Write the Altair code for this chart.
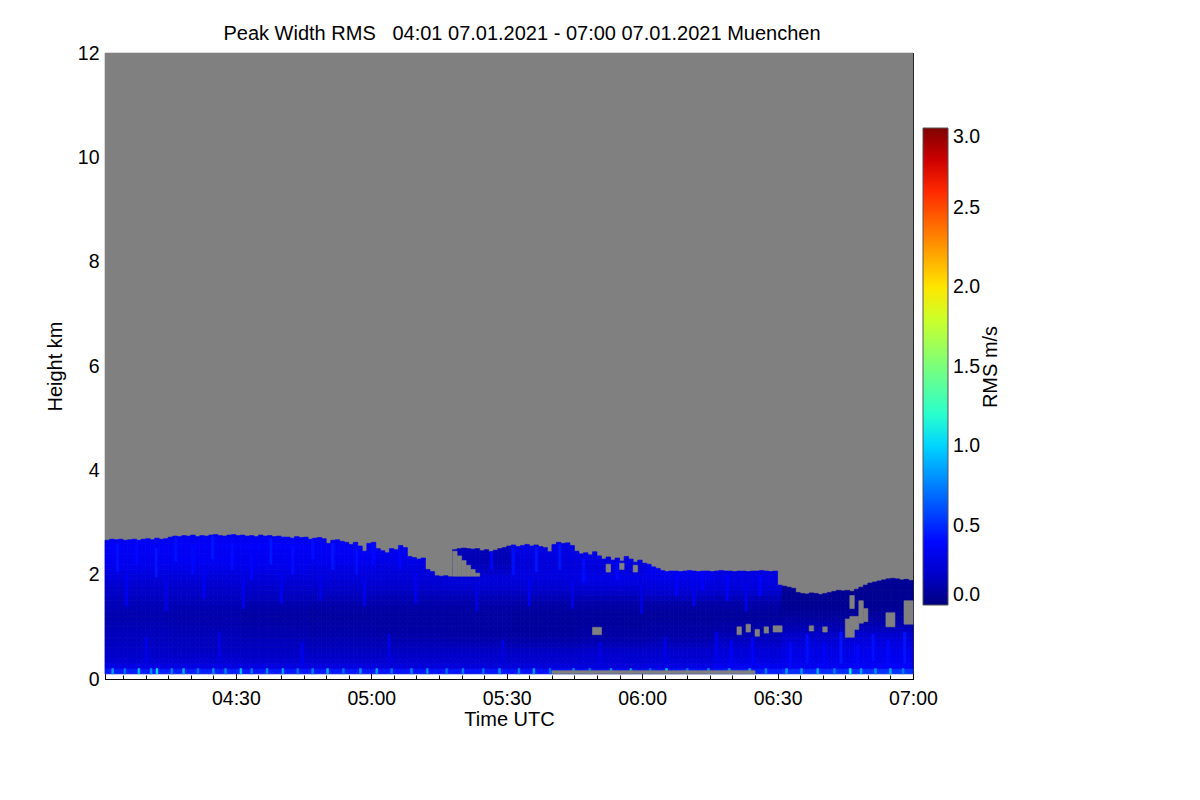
import json
import altair as alt
import pandas as pd

FONT = "Liberation Sans"
TITLE = "Peak Width RMS\u00a0\u00a0\u00a004:01 07.01.2021 - 07:00 07.01.2021 Muenchen"
X_TITLE = "Time UTC"
Y_TITLE = "Height km"
CB_TITLE = "RMS m/s"

# time axis: minutes after 04:00 UTC
T_START, T_END = 1, 180
H_BOTTOM, H_TOP = 0, 12
H_FLOOR = 0.1          # lowest range gate
ROW_H = 0.1            # range gate height (km)
COL_W = 1              # profile length (min)
SEG_MIN = 15           # minutes per profile segment

X_TICKS = [30, 60, 90, 120, 150, 180]
X_LABELS = ["04:30", "05:00", "05:30", "06:00", "06:30", "07:00"]
X_MINOR = list(range(5, 180, 5))
Y_TICKS = [0, 2, 4, 6, 8, 10, 12]
Y_MINOR = [i * 0.5 for i in range(25)]
CB_TICKS = [0.0, 0.5, 1.0, 1.5, 2.0, 2.5, 3.0]

# jet colour table on 0..3 m/s
JET_STOPS = [0, 0.11, 0.125, 0.34, 0.35, 0.375, 0.64, 0.65, 0.66, 0.89, 0.91, 1.0]
JET_COLORS = ["#000080", "#0000ff", "#0000ff", "#00dbff", "#00e5f7", "#14ffe2",
              "#eeff08", "#f7f600", "#ffec00", "#ff1300", "#e80000", "#800000"]
CB_MAX = 3.0

# top of valid signal (km), one value per minute 04:01 .. 06:59
TOPS = [
    2.66, 2.68, 2.67, 2.68, 2.66, 2.67, 2.68, 2.66, 2.68, 2.69, 2.67, 2.70, 2.68, 2.69,
    2.72, 2.74, 2.73, 2.75, 2.74, 2.76, 2.73, 2.75, 2.74, 2.76, 2.77, 2.75, 2.74, 2.76,
    2.77, 2.75, 2.76, 2.74, 2.75, 2.73, 2.76, 2.74, 2.75, 2.73, 2.74, 2.72,
    2.72, 2.70, 2.73, 2.71, 2.72, 2.68, 2.70, 2.71, 2.69,
    2.60, 2.66, 2.67, 2.64, 2.62,
    2.58, 2.62, 2.55, 2.45, 2.60, 2.62, 2.50, 2.46,
    2.42, 2.50, 2.48, 2.56, 2.52,
    2.35, 2.33, 2.30, 2.32,
    2.10, 2.06,
    1.98, 1.97, 1.98, 1.96,
    2.48, 2.50, 2.51, 2.50, 2.49, 2.50,
    2.46, 2.48, 2.44, 2.47, 2.50,
    2.52, 2.55, 2.57, 2.54, 2.56, 2.58, 2.55, 2.57, 2.54, 2.52,
    2.44,
    2.58, 2.62, 2.60, 2.61, 2.56,
    2.45, 2.40, 2.42, 2.38, 2.44, 2.36,
    2.30, 2.34, 2.28, 2.32, 2.26, 2.35, 2.30, 2.24, 2.28, 2.22,
    2.20, 2.15, 2.12, 2.08,
    2.06, 2.07, 2.07, 2.06, 2.07, 2.08, 2.07, 2.06, 2.07, 2.07, 2.06, 2.07, 2.08,
    2.07, 2.07, 2.06, 2.07, 2.07, 2.06, 2.07, 2.07, 2.08, 2.07, 2.06, 2.07,
    1.80, 1.78, 1.76, 1.74,
    1.66, 1.64, 1.63, 1.65, 1.64, 1.62, 1.64, 1.66,
    1.68, 1.70, 1.69, 1.70, 1.68, 1.72,
    1.76, 1.80, 1.84, 1.86, 1.88,
    1.90, 1.92, 1.93, 1.92, 1.90, 1.91, 1.89,
]

# RMS (m/s) per range gate 0.1, 0.2, ... 2.7 km, one profile per 15 minutes
PROFILE_0401 = [0.45, 0.26, 0.22, 0.20, 0.19, 0.18, 0.17, 0.16, 0.15, 0.14, 0.13, 0.13, 0.14, 0.15,
                0.17, 0.19, 0.20, 0.22, 0.24, 0.26, 0.28, 0.29, 0.30, 0.31, 0.31, 0.30, 0.29]
PROFILE_0416 = [0.46, 0.26, 0.22, 0.20, 0.18, 0.17, 0.16, 0.15, 0.14, 0.13, 0.12, 0.12, 0.13, 0.15,
                0.17, 0.19, 0.20, 0.22, 0.24, 0.26, 0.28, 0.30, 0.31, 0.31, 0.32, 0.31, 0.30]
PROFILE_0431 = [0.44, 0.25, 0.21, 0.19, 0.18, 0.16, 0.15, 0.13, 0.12, 0.11, 0.10, 0.10, 0.11, 0.13,
                0.16, 0.18, 0.20, 0.22, 0.24, 0.26, 0.28, 0.29, 0.30, 0.31, 0.32, 0.31, 0.30]
PROFILE_0446 = [0.44, 0.25, 0.21, 0.19, 0.17, 0.15, 0.14, 0.12, 0.11, 0.10, 0.09, 0.09, 0.10, 0.12,
                0.15, 0.18, 0.20, 0.22, 0.24, 0.25, 0.27, 0.29, 0.30, 0.31, 0.31, 0.30, 0.29]
PROFILE_0501 = [0.43, 0.24, 0.21, 0.19, 0.17, 0.15, 0.13, 0.11, 0.10, 0.09, 0.09, 0.09, 0.10, 0.12,
                0.14, 0.17, 0.20, 0.22, 0.23, 0.24, 0.25, 0.27, 0.28, 0.29, 0.29, 0.28, 0.27]
PROFILE_0516 = [0.43, 0.24, 0.21, 0.20, 0.18, 0.15, 0.12, 0.10, 0.09, 0.09, 0.09, 0.09, 0.10, 0.12,
                0.14, 0.18, 0.21, 0.23, 0.24, 0.20, 0.16, 0.14, 0.14, 0.15, 0.16, 0.16, 0.16]
PROFILE_0531 = [0.42, 0.24, 0.21, 0.20, 0.18, 0.14, 0.11, 0.09, 0.08, 0.08, 0.08, 0.08, 0.09, 0.11,
                0.14, 0.18, 0.21, 0.23, 0.25, 0.25, 0.24, 0.24, 0.25, 0.26, 0.27, 0.26, 0.25]
PROFILE_0546 = [0.42, 0.24, 0.22, 0.21, 0.19, 0.15, 0.12, 0.10, 0.09, 0.08, 0.08, 0.08, 0.09, 0.11,
                0.14, 0.19, 0.22, 0.25, 0.27, 0.25, 0.24, 0.25, 0.26, 0.27, 0.27, 0.26, 0.25]
PROFILE_0601 = [0.44, 0.26, 0.23, 0.21, 0.20, 0.16, 0.13, 0.11, 0.10, 0.09, 0.08, 0.08, 0.09, 0.11,
                0.16, 0.21, 0.24, 0.26, 0.28, 0.29, 0.29, 0.29, 0.29, 0.29, 0.29, 0.29, 0.29]
PROFILE_0616 = [0.46, 0.29, 0.26, 0.24, 0.23, 0.20, 0.17, 0.14, 0.11, 0.10, 0.08, 0.08, 0.09, 0.11,
                0.15, 0.20, 0.23, 0.25, 0.26, 0.25, 0.25, 0.25, 0.25, 0.25, 0.25, 0.25, 0.25]
PROFILE_0631 = [0.50, 0.30, 0.28, 0.27, 0.26, 0.24, 0.22, 0.19, 0.15, 0.12, 0.09, 0.07, 0.06, 0.05,
                0.05, 0.06, 0.06, 0.06, 0.06, 0.06, 0.06, 0.06, 0.06, 0.06, 0.06, 0.06, 0.06]
PROFILE_0646 = [0.52, 0.32, 0.30, 0.29, 0.28, 0.26, 0.24, 0.21, 0.17, 0.13, 0.10, 0.08, 0.06, 0.05,
                0.05, 0.05, 0.05, 0.06, 0.06, 0.06, 0.06, 0.06, 0.06, 0.06, 0.06, 0.06, 0.06]
PROFILES = [PROFILE_0401, PROFILE_0416, PROFILE_0431, PROFILE_0446, PROFILE_0501, PROFILE_0516,
            PROFILE_0531, PROFILE_0546, PROFILE_0601, PROFILE_0616, PROFILE_0631, PROFILE_0646]

# brighter vertical streaks
STREAK_T = [3.5, 7.8, 12.1, 16.4, 20.2, 24.6, 28.9, 33.2, 37.5, 42.3, 46.8, 51.2, 56.5, 60.3,
            66.1, 86.4, 91.2, 96.3, 101.5, 106.8, 114.2, 127.4, 133.1, 138.6, 145.9,
            139.5, 144.2, 152.6, 156.3, 160.1, 163.8, 167.5, 170.9, 174.2, 177.9,
            5.6, 14.3, 22.7, 31.4, 39.8, 48.5, 58.2, 69.6, 83.1, 94.7, 104.3, 119.6, 131.2, 142.8,
            9.9, 26.1, 44.4, 63.7, 88.9, 110.4, 124.8, 136.2]
STREAK_H0 = [2.05, 2.20, 1.95, 2.25, 2.00, 2.30, 2.10, 1.90, 2.20, 2.00, 2.30, 2.10, 2.00, 2.20,
             2.10, 2.10, 2.00, 2.05, 2.10, 1.85, 1.90, 1.60, 1.70, 1.50, 1.60,
             0.25, 0.30, 0.20, 0.30, 0.25, 0.30, 0.20, 0.35, 0.25, 0.30,
             1.40, 1.30, 1.55, 1.35, 1.45, 1.50, 1.40, 1.45, 1.30, 1.40, 1.35, 1.25, 1.40, 1.30,
             0.30, 0.35, 0.25, 0.30, 0.30, 0.25, 0.30, 0.35]
STREAK_H1 = [2.60, 2.65, 2.50, 2.72, 2.55, 2.74, 2.60, 2.40, 2.70, 2.55, 2.70, 2.60, 2.50, 2.58,
             2.45, 2.44, 2.50, 2.52, 2.58, 2.30, 2.25, 2.00, 2.05, 2.00, 2.00,
             0.75, 0.80, 0.70, 0.85, 0.70, 0.90, 0.65, 0.85, 0.75, 0.90,
             2.00, 1.90, 2.10, 1.95, 2.05, 2.00, 1.95, 2.05, 1.85, 1.95, 1.90, 1.80, 1.95, 1.85,
             0.80, 0.90, 0.70, 0.85, 0.75, 0.70, 0.80, 0.90]
STREAK_V = [0.42, 0.40, 0.44, 0.42, 0.40, 0.44, 0.41, 0.39, 0.44, 0.41, 0.42, 0.44, 0.42, 0.40,
            0.39, 0.39, 0.42, 0.44, 0.44, 0.41, 0.40, 0.38, 0.37, 0.36, 0.38,
            0.36, 0.38, 0.40, 0.42, 0.38, 0.44, 0.40, 0.42, 0.40, 0.44,
            0.30, 0.28, 0.31, 0.29, 0.30, 0.28, 0.30, 0.29, 0.27, 0.30, 0.28, 0.27, 0.29, 0.28,
            0.28, 0.27, 0.29, 0.27, 0.26, 0.27, 0.28, 0.29]
STREAK_W = 0.5

# cyan speckles in the lowest gate
SPECKLE_T = [2.5, 5.2, 8.3, 11.0, 12.3, 15.6, 18.2, 21.4, 24.8, 27.5, 30.9, 33.3, 36.7, 40.2,
             43.5, 46.8, 50.1, 53.6, 57.4, 61.0, 64.3, 68.7, 72.2, 76.5, 80.1, 84.6, 88.2, 92.5,
             95.8, 99.4, 104.6, 108.2, 112.9, 117.3, 121.6, 125.2, 129.8, 134.5, 139.1, 143.6,
             147.2, 151.8, 155.1, 158.7, 162.4, 165.9, 168.3, 171.5, 174.8, 177.6]
SPECKLE_V = [0.85, 0.70, 0.95, 0.80, 1.05, 0.75, 0.90, 0.70, 0.80, 0.75, 0.95, 0.70, 0.80, 0.85,
             0.70, 0.75, 0.90, 0.70, 0.80, 0.85, 0.70, 0.75, 0.80, 0.70, 0.75, 0.70, 0.80, 0.75,
             0.85, 0.70, 0.80, 0.75, 0.85, 0.90, 0.70, 1.00, 0.75, 0.80, 0.85, 0.90,
             0.75, 0.85, 0.80, 0.90, 0.75, 1.10, 0.85, 0.80, 0.90, 0.75]
SPECKLE_W = 0.4

# no-signal holes (drawn grey)
GAP_T0 = [78, 79, 80, 81, 82, 83, 112, 115, 118, 109, 100, 141, 143, 145, 147, 149,
          157, 160, 165, 166, 168, 169, 166, 174, 178]
GAP_T1 = [79, 80, 81, 82, 83, 84, 113, 116, 119, 111, 145, 142, 144, 146, 148, 151,
          158, 161, 167, 168, 169, 170, 167, 176, 180]
GAP_H0 = [1.97, 1.97, 1.97, 1.97, 1.97, 1.97, 2.05, 2.10, 2.05, 0.85, 0.10, 0.85, 0.90, 0.82, 0.88, 0.90,
          0.92, 0.90, 0.80, 0.95, 1.07, 1.10, 1.35, 1.00, 1.05]
GAP_H1 = [2.45, 2.36, 2.27, 2.18, 2.10, 2.03, 2.20, 2.22, 2.18, 0.99, 0.16, 1.00, 1.05, 0.95, 1.00, 1.02,
          1.02, 1.00, 1.15, 1.20, 1.50, 1.35, 1.60, 1.27, 1.50]

NODATA = "#808080"
W, H = 808, 626

# ---------------------------------------------------------------- tables
cells = []
for k, top in enumerate(TOPS):
    m = T_START + k
    prof = PROFILES[min(k // SEG_MIN, len(PROFILES) - 1)]
    for i, v in enumerate(prof):
        h0 = round(H_FLOOR + ROW_H * i, 3)
        if h0 >= top:
            break
        cells.append({"t0": m, "t1": m + COL_W, "h0": h0, "h1": min(round(h0 + ROW_H, 3), top),
                      "v": v, "edge": v})
cells = pd.DataFrame(cells)

streaks = pd.DataFrame([
    {"t0": t, "t1": t + STREAK_W, "h0": a, "h1": min(b, TOPS[int(t) - T_START]), "v": v, "edge": v}
    for t, a, b, v in zip(STREAK_T, STREAK_H0, STREAK_H1, STREAK_V)
])
speckles = pd.DataFrame([
    {"t0": t, "t1": t + SPECKLE_W, "h0": H_FLOOR, "h1": round(H_FLOOR + ROW_H, 3), "v": v, "edge": v}
    for t, v in zip(SPECKLE_T, SPECKLE_V)
])
gaps = pd.DataFrame({"t0": GAP_T0, "t1": GAP_T1, "h0": GAP_H0, "h1": GAP_H1})
background = pd.DataFrame({"t0": [T_START], "t1": [T_END], "h0": [H_FLOOR], "h1": [H_TOP]})
texts = pd.DataFrame({"label": [TITLE]})
cb_title = pd.DataFrame({"label": [CB_TITLE]})

# ---------------------------------------------------------------- scales / guides
xs = alt.Scale(domain=[T_START, T_END], nice=False, zero=False)
ys = alt.Scale(domain=[H_BOTTOM, H_TOP], nice=False, zero=False)
fill_domain = [s * CB_MAX for s in JET_STOPS]
cs = alt.Scale(domain=fill_domain, range=JET_COLORS, interpolate="rgb", clamp=True)
# cell outline scale: same colours; its domain end is nudged so that Vega-Lite
# does not fold it into the colour-bar legend
edge_domain = fill_domain[:-1] + [CB_MAX + 0.001]
es = alt.Scale(domain=edge_domain, range=JET_COLORS, interpolate="rgb", clamp=True)

label_expr = f"{json.dumps(X_LABELS)}[indexof({json.dumps(X_TICKS)}, datum.value)]"

x_label_axis = alt.Axis(orient="bottom", values=X_TICKS, labelExpr=label_expr, ticks=False, domain=False,
                        grid=False, labelPadding=10, labelFlush=False, labelFont=FONT, labelFontSize=19.5,
                        labelColor="black", title=X_TITLE, titleFont=FONT, titleFontSize=20,
                        titleFontWeight="normal", titleColor="black", titlePadding=2)
y_label_axis = alt.Axis(orient="left", values=Y_TICKS, format="d", ticks=False, domain=False, grid=False,
                        labelPadding=6, labelFlush=False, labelFont=FONT, labelFontSize=19.5,
                        labelColor="black", title=Y_TITLE, titleFont=FONT, titleFontSize=20,
                        titleFontWeight="normal", titleColor="black", titlePadding=12)


def tick_axis(orient, values, size, offset):
    return alt.Axis(orient=orient, values=values, tickSize=size, offset=offset, labels=False,
                    domain=False, grid=False, ticks=True, tickColor="black", tickWidth=1, title=None)


legend = alt.Legend(type="gradient", orient="none", legendX=818, legendY=75, direction="vertical",
                    gradientLength=477, gradientThickness=25, values=CB_TICKS, format=".1f",
                    labelFont=FONT, labelFontSize=19.5, labelColor="black", labelOffset=5,
                    labelOverlap=False, title=None,
                    gradientStrokeColor="#555555", gradientStrokeWidth=1, padding=0)


def rect_layer(df, xaxis, yaxis, colored=True):
    enc = dict(
        x=alt.X("t0:Q", scale=xs, axis=xaxis),
        x2="t1:Q",
        y=alt.Y("h0:Q", scale=ys, axis=yaxis),
        y2="h1:Q",
    )
    if colored:
        enc["fill"] = alt.Fill("v:Q", scale=cs, legend=legend)
        enc["stroke"] = alt.Stroke("edge:Q", scale=es, legend=None)
        return alt.Chart(df).mark_rect(strokeWidth=0.6).encode(**enc)
    return alt.Chart(df).mark_rect(color=NODATA, stroke=NODATA, strokeWidth=0.6).encode(**enc)


bg_layer = rect_layer(background, x_label_axis, y_label_axis, colored=False)
cell_layer = rect_layer(cells, tick_axis("top", X_TICKS, 8, -H), tick_axis("right", Y_TICKS, 8, -W))
streak_layer = rect_layer(streaks, tick_axis("bottom", X_TICKS, 8, -H), tick_axis("left", Y_TICKS, 8, -W))
speckle_layer = rect_layer(speckles, tick_axis("top", X_MINOR, 4, -H), tick_axis("right", Y_MINOR, 4, -W))
gap_layer = rect_layer(gaps, tick_axis("bottom", X_MINOR, 4, -H), tick_axis("left", Y_MINOR, 4, -W),
                       colored=False)
title_layer = alt.Chart(texts).mark_text(
    align="center", baseline="alphabetic", font=FONT, fontSize=20, color="black"
).encode(text="label:N", x=alt.value(417), y=alt.value(-13))
cb_title_layer = alt.Chart(cb_title).mark_text(
    angle=270, align="center", baseline="middle", font=FONT, fontSize=20, color="black"
).encode(text="label:N", x=alt.value(886), y=alt.value(314))

chart = (
    alt.layer(bg_layer, cell_layer, streak_layer, speckle_layer, gap_layer, title_layer, cb_title_layer)
    .resolve_axis(x="independent", y="independent")
    .properties(
        width=W, height=H,
        padding={"left": 97, "top": 45, "right": 279, "bottom": 113},
        autosize=alt.AutoSizeParams(type="none"),
        background="white",
    )
    .configure_view(stroke="black", strokeWidth=1)
)

chart.save("out.html", embed_options={"renderer": "svg", "actions": False})
